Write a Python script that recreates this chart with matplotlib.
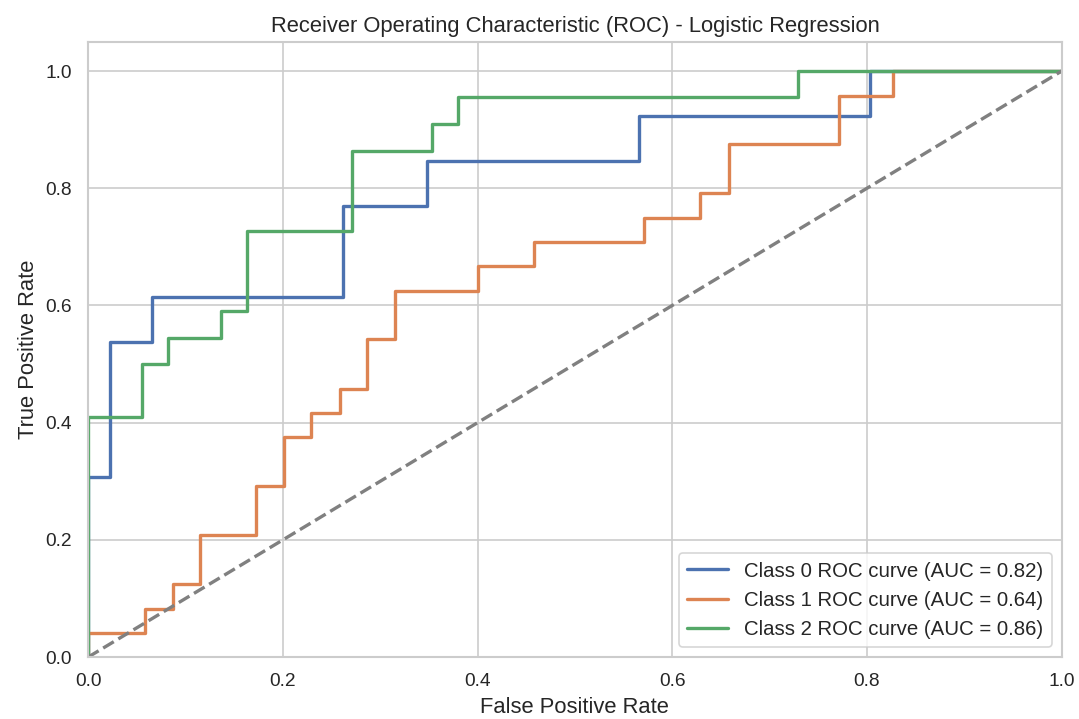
import matplotlib
matplotlib.use("Agg")
import matplotlib.pyplot as plt
import seaborn as sns

# ROC step points (fpr, tpr per class)
fpr_0 = [0.0, 0.0, 0.023, 0.023, 0.066, 0.066, 0.262, 0.262, 0.348, 0.348, 0.566, 0.566, 0.803, 0.803, 1.0]
tpr_0 = [0.0, 0.308, 0.308, 0.538, 0.538, 0.615, 0.615, 0.769, 0.769, 0.846, 0.846, 0.923, 0.923, 1.0, 1.0]

fpr_1 = [0.0, 0.0, 0.058, 0.058, 0.087, 0.087, 0.115, 0.115, 0.172, 0.172, 0.201, 0.201,
         0.229, 0.229, 0.259, 0.259, 0.286, 0.286, 0.315, 0.315, 0.400, 0.400, 0.458, 0.458,
         0.571, 0.571, 0.629, 0.629, 0.658, 0.658, 0.771, 0.771, 0.827, 0.827, 1.0]
tpr_1 = [0.0, 0.042, 0.042, 0.083, 0.083, 0.125, 0.125, 0.208, 0.208, 0.292, 0.292, 0.375,
         0.375, 0.417, 0.417, 0.458, 0.458, 0.542, 0.542, 0.625, 0.625, 0.667, 0.667, 0.708,
         0.708, 0.750, 0.750, 0.792, 0.792, 0.875, 0.875, 0.958, 0.958, 1.0, 1.0]

fpr_2 = [0.0, 0.0, 0.055, 0.055, 0.082, 0.082, 0.137, 0.137, 0.163, 0.163, 0.271, 0.271,
         0.353, 0.353, 0.380, 0.380, 0.729, 0.729, 1.0]
tpr_2 = [0.0, 0.409, 0.409, 0.5, 0.5, 0.545, 0.545, 0.591, 0.591, 0.727, 0.727, 0.864,
         0.864, 0.909, 0.909, 0.955, 0.955, 1.0, 1.0]

auc_vals = [0.82, 0.64, 0.86]
curves = [(fpr_0, tpr_0), (fpr_1, tpr_1), (fpr_2, tpr_2)]

sns.set_theme(style="whitegrid")
plt.rcParams['font.family'] = ['Liberation Sans', 'DejaVu Sans']

fig, ax = plt.subplots(figsize=(1079 / 120, 719 / 120), dpi=120)
colors = sns.color_palette()

for i, (fpr, tpr) in enumerate(curves):
    ax.plot(fpr, tpr, color=colors[i], lw=2,
            label=f"Class {i} ROC curve (AUC = {auc_vals[i]:.2f})")

ax.plot([0, 1], [0, 1], color='gray', lw=2, linestyle='--')

ax.set_xlim(0.0, 1.0)
ax.set_ylim(0.0, 1.05)
ax.set_xlabel('False Positive Rate', fontsize=13.2)
ax.set_ylabel('True Positive Rate', fontsize=13.2)
ax.set_title('Receiver Operating Characteristic (ROC) - Logistic Regression', fontsize=13.2)
ax.tick_params(labelsize=11.5)
ax.legend(loc='lower right', fontsize=12.2)

fig.subplots_adjust(left=0.0816, right=0.984, bottom=0.086, top=0.942)
fig.savefig('out.png', dpi=120)
